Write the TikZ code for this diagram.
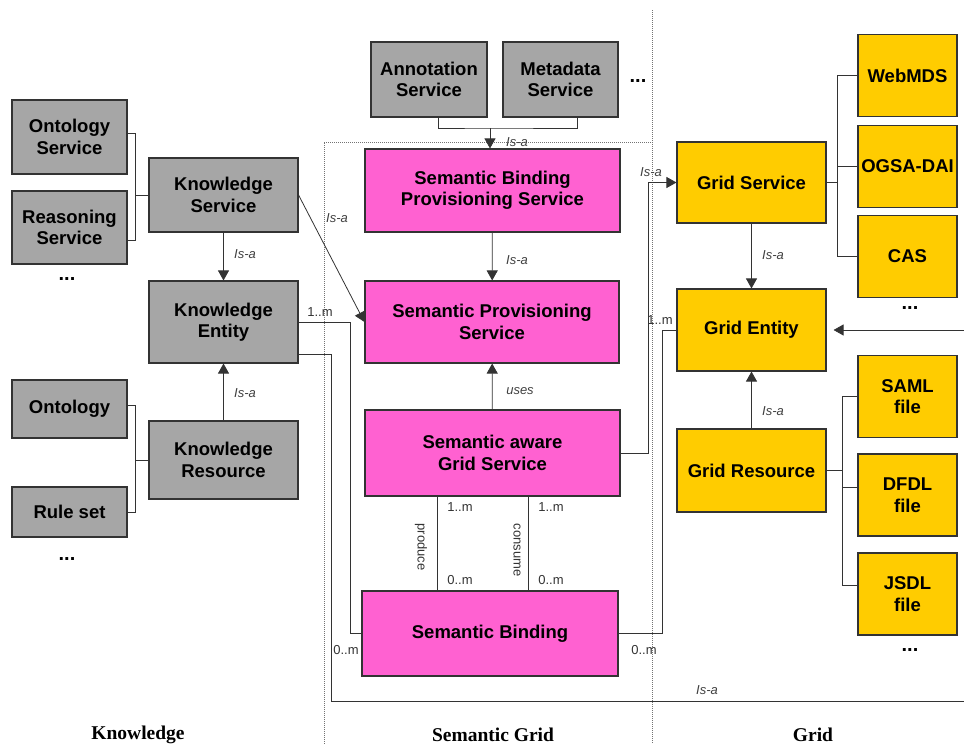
\documentclass[tikz,border=0pt]{standalone}
\usepackage{fontspec}
\setmainfont{Liberation Sans}
\newfontfamily\sectionfont{Liberation Serif}
\usetikzlibrary{arrows.meta}
\definecolor{boxgray}{rgb}{0.65, 0.65, 0.65}
\definecolor{boxpink}{rgb}{1, 0.38, 0.82}
\definecolor{boxyellow}{rgb}{1, 0.8, 0}
\definecolor{edgegray}{rgb}{0.2, 0.2, 0.2}
\definecolor{zonegray}{rgb}{0.45, 0.45, 0.45}

\tikzset{
	entity/.style={draw=edgegray, line width=1.1pt, inner sep=0pt, align=center,
		font=\fontsize{18.5}{21.5}\selectfont\bfseries},
	sz/.style 2 args={minimum width=#1pt, minimum height=#2pt},
	kbox/.style={entity, fill=boxgray},
	sbox/.style={entity, fill=boxpink},
	gbox/.style={entity, fill=boxyellow},
	link/.style={draw=edgegray, line width=0.8pt},
	isa/.style={-{Triangle[length=10pt, width=11pt]}},
	rel/.style={font=\fontsize{13}{15}\selectfont\itshape, text=black!75, inner sep=1pt},
	mult/.style={font=\fontsize{13}{15}\selectfont, text=black!80, inner sep=1pt},
	more/.style={font=\fontsize{20}{22}\selectfont\bfseries},
	zone/.style={draw=zonegray, line width=0.6pt, dash pattern=on 1pt off 1pt},
	zonelabel/.style={font=\fontsize{19.5}{22}\selectfont\sectionfont\bfseries}
}

\begin{document}
\begin{tikzpicture}[x=1pt, y=-1pt]
		\useasboundingbox (0,0) rectangle (964,744);

		% draws the zones
		\draw[zone] (324,744) -- (324,142) -- (652,142);
		\draw[zone] (652,10) -- (652,744);
		\node[zonelabel] (kzone) at (138,735) {Knowledge};
		\node[zonelabel] (szone) at (493,735) {Semantic Grid};
		\node[zonelabel] (gzone) at (813,735) {Grid};

		% draws the knowledge side
		\node[kbox, sz={115}{74}] (ontserv) at (69.5,137) {Ontology\\Service};
		\node[kbox, sz={115}{73}] (reasserv) at (69.5,227.5) {Reasoning\\Service};
		\node[kbox, sz={149}{74}] (knowserv) at (223.5,195) {Knowledge\\Service};
		\node[kbox, sz={149}{82}] (knowent) at (223.5,322) {Knowledge\\Entity};
		\node[kbox, sz={115}{58}] (ontology) at (69.5,409) {Ontology};
		\node[kbox, sz={115}{50}] (ruleset) at (69.5,512) {Rule set};
		\node[kbox, sz={149}{78}] (knowres) at (223.5,460) {Knowledge\\Resource};
		\node[more] (kdots1) at (67,279) {...};
		\node[more] (kdots2) at (67,559) {...};

		% draws the semantic grid
		\node[kbox, sz={116}{75}] (annserv) at (429,79.5) {Annotation\\Service};
		\node[kbox, sz={115}{75}] (metaserv) at (560.5,79.5) {Metadata\\Service};
		\node[more] (sdots) at (638,81) {...};
		\node[sbox, sz={255}{83}] (sbps) at (492.5,190.5) {Semantic Binding\\Provisioning Service};
		\node[sbox, sz={254}{82}] (sps) at (492,322) {Semantic Provisioning\\Service};
		\node[sbox, sz={255}{86}] (sags) at (492.5,453) {Semantic aware\\Grid Service};
		\node[sbox, sz={256}{85}] (sb) at (490,633.5) {Semantic Binding};

		% draws the grid side
		\node[gbox, sz={149}{81}] (gridserv) at (751.5,182.5) {Grid Service};
		\node[gbox, sz={149}{82}] (grident) at (751.5,330) {Grid Entity};
		\node[gbox, sz={149}{83}] (gridres) at (751.5,470.5) {Grid Resource};
		\foreach \name/\txt/\y in {webmds/WebMDS/75.5, ogsa/OGSA-DAI/166.5, cas/CAS/256.5,
				saml/{SAML\\file}/396.5, dfdl/{DFDL\\file}/495, jsdl/{JSDL\\file}/594}
			\node[gbox, sz={99}{82}] (\name) at (907.5,\y) {\txt};
		\node[more] (gdots1) at (910,308) {...};
		\node[more] (gdots2) at (910,650) {...};

		% draws the brackets
		\coordinate (ksbus) at (135,195);
		\draw[link] (knowserv.west) -- (ksbus);
		\foreach \n/\s in {ontserv/4, reasserv/-13}
			\draw[link] (ksbus) |- ([yshift=\s pt]\n.east);
		\coordinate (krbus) at (135,460);
		\draw[link] (knowres.west) -- (krbus);
		\foreach \n/\s in {ontology/4, ruleset/0}
			\draw[link] (krbus) |- ([yshift=\s pt]\n.east);
		\coordinate (gsbus) at (837,182.5);
		\draw[link] (gridserv.east) -- (gsbus);
		\foreach \n in {webmds, ogsa, cas}
			\draw[link] (gsbus) |- (\n.west);
		\coordinate (grbus) at (842,470.5);
		\draw[link] (gridres.east) -- (grbus);
		\foreach \n/\s in {saml/0, dfdl/8, jsdl/9}
			\draw[link] (grbus) |- ([yshift=\s pt]\n.west);
		\coordinate (asbus) at (490,128);
		\draw[link] ([xshift=9pt]annserv.south) |- (asbus) -| ([xshift=17pt]metaserv.south);

		% draws the is-a arrows
		\draw[link, isa] (asbus) -- (asbus |- sbps.north);
		\draw[link, isa] (knowserv) -- (knowent);
		\draw[link, isa] (knowres) -- (knowent);
		\draw[link, isa] (sbps) -- (sps);
		\draw[link, isa] (knowserv.east) -- (sps.west);
		\draw[link, isa] (sags) -- (sps);
		\draw[link, isa] (gridserv) -- (grident);
		\draw[link, isa] (gridres) -- (grident);
		\draw[link, isa] (sags.east) -- ++(28,0) |- (gridserv.west);
		\draw[link, isa, shorten >=7pt] ([yshift=-32pt]knowent.east) -- ++(33,0) |- (975,701) |- (grident.east);

		% draws the associations
		\draw[link] (knowent.east) -- ++(52,0) |- (sb.west);
		\draw[link] (grident.west) -- ++(-14,0) |- (sb.east);
		\draw[link] ([xshift=-55.5pt]sags.south) -- ([xshift=-55.5pt]sags.south |- sb.north);
		\draw[link] ([xshift=35.5pt]sags.south) -- ([xshift=35.5pt]sags.south |- sb.north);

		% draws the labels
		\node[rel] at (245,254) {Is-a};
		\node[rel] at (245,393) {Is-a};
		\node[rel] at (517,142) {Is-a};
		\node[rel] at (517,260) {Is-a};
		\node[rel] at (337,218) {Is-a};
		\node[rel] at (520,391) {uses};
		\node[rel] at (651,172) {Is-a};
		\node[rel] at (773,255) {Is-a};
		\node[rel] at (773,411) {Is-a};
		\node[rel] at (707,690) {Is-a};
		\node[mult] at (320,312) {1..m};
		\node[mult] at (346,650) {0..m};
		\node[mult] at (660,320) {1..m};
		\node[mult] at (644,650) {0..m};
		\foreach \x in {460, 551} {
			\node[mult] at (\x,507) {1..m};
			\node[mult] at (\x,580) {0..m};
		}
		\node[mult, rotate=-90] at (421,547) {produce};
		\node[mult, rotate=-90] at (517,550) {consume};
	\end{tikzpicture}
\end{document}
